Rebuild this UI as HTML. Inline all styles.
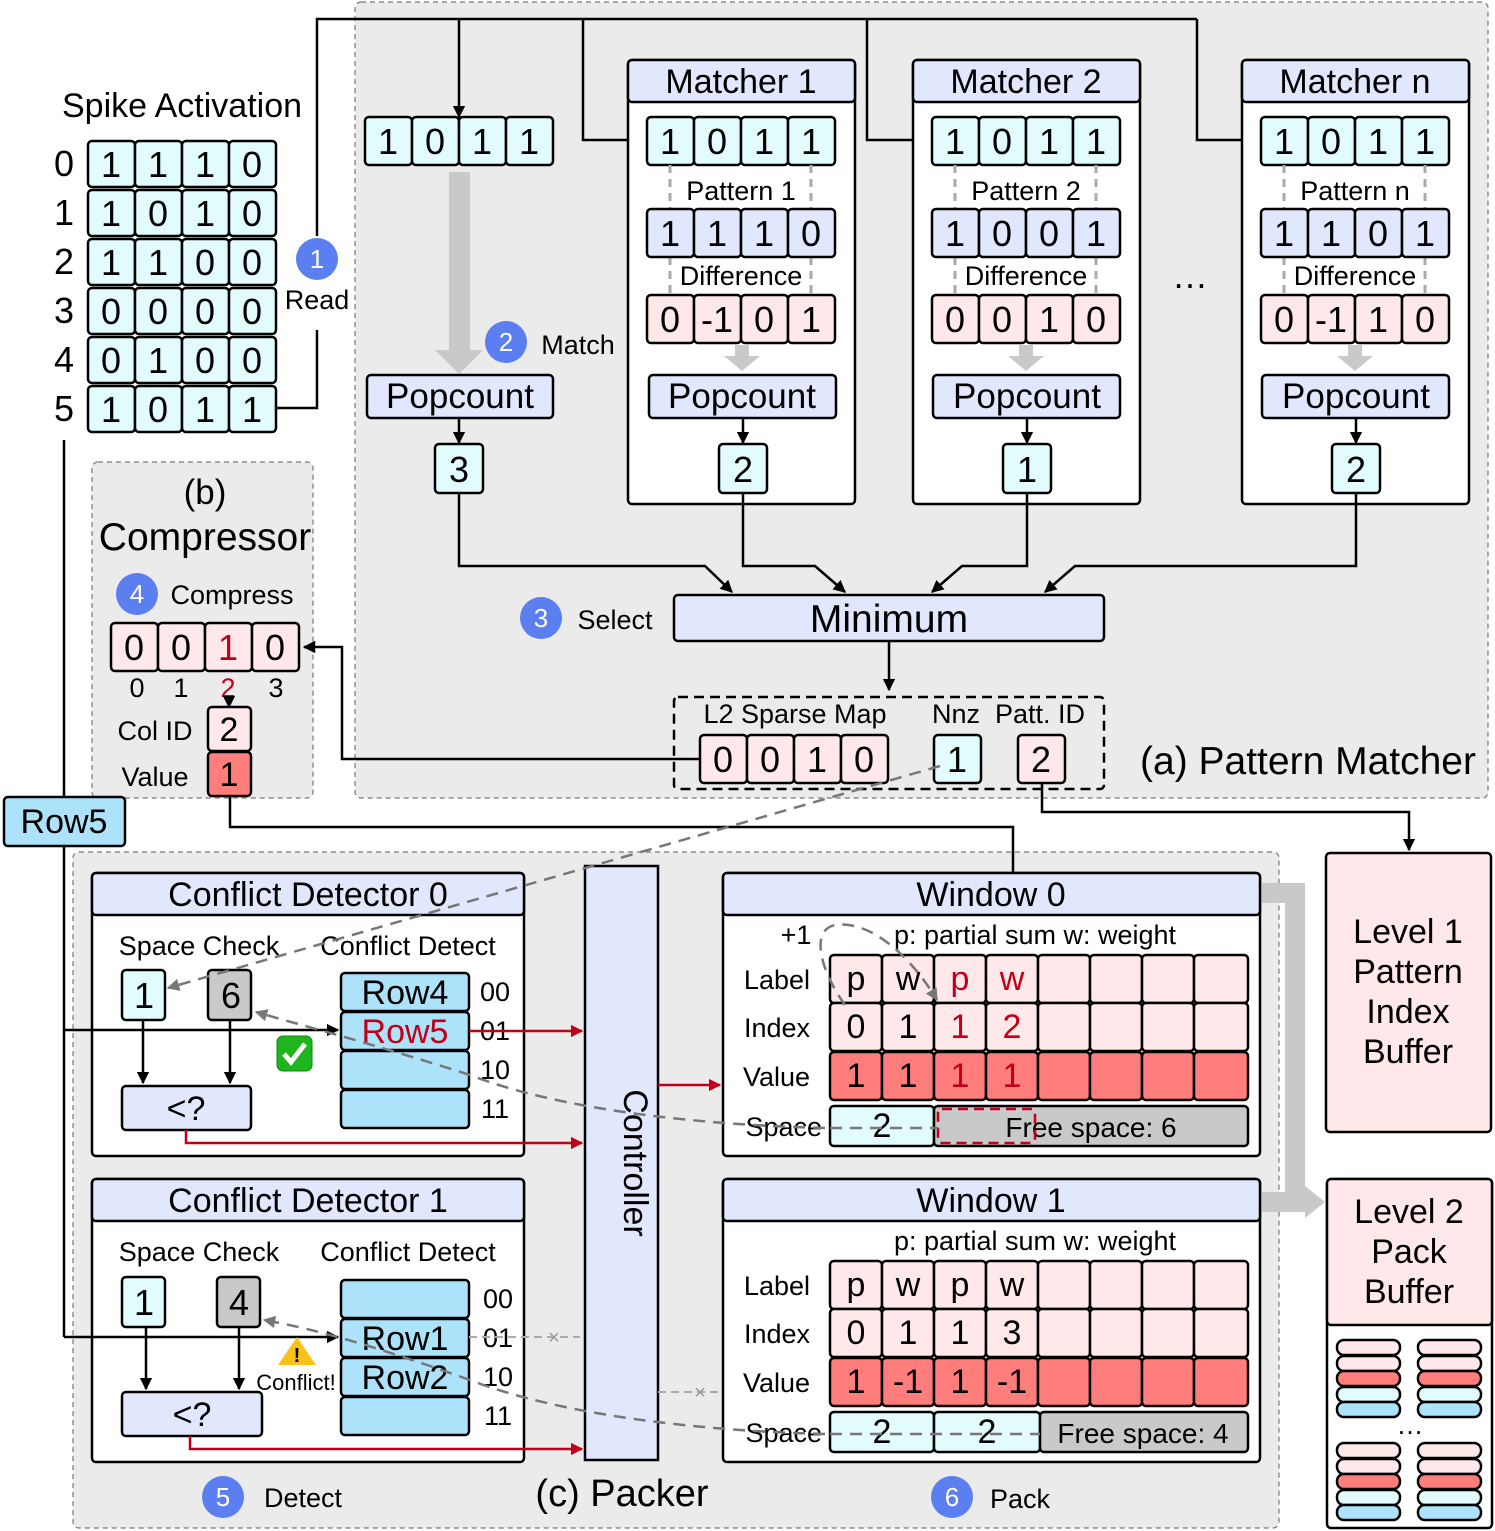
<!DOCTYPE html>
<html><head><meta charset="utf-8"><style>
body{margin:0;background:#fff}
svg{display:block;font-family:"Liberation Sans",sans-serif}
.c{stroke:#000;stroke-width:2.5}
.cy{fill:#e2fcfd}.lv{fill:#e1e7fc}.pk{fill:#fee8e9}.rd{fill:#ff7d7b}.bl{fill:#ade3fa}.gy{fill:#c9c9c9}
.b{font-size:36px;text-anchor:middle}
.m{font-size:34px;text-anchor:middle}
.s{font-size:27px;text-anchor:middle}
.r{fill:#c0001a}
.ln{stroke:#000;stroke-width:2.5;fill:none}
.red{stroke:#c0001a;stroke-width:2.5;fill:none}
.dg{stroke:#777;stroke-width:2.5;fill:none;stroke-dasharray:12 8}
.pd{stroke:#aaa;stroke-width:3;stroke-dasharray:8 6}
.ci{fill:#5b7ef0}
.cn{fill:#fff;font-size:26px;text-anchor:middle}
</style></head><body>
<svg width="1495" height="1531" viewBox="0 0 1495 1531" xmlns="http://www.w3.org/2000/svg">
<defs>
<marker id="a" viewBox="0 0 10 10" refX="9" refY="5" markerWidth="5" markerHeight="5" orient="auto"><path d="M0,0L10,5L0,10z" fill="#000"/></marker>
<marker id="ar" viewBox="0 0 10 10" refX="9" refY="5" markerWidth="5" markerHeight="5" orient="auto"><path d="M0,0L10,5L0,10z" fill="#c0001a"/></marker>
<marker id="ag" viewBox="0 0 10 10" refX="9" refY="5" markerWidth="5" markerHeight="5" orient="auto"><path d="M0,0L10,5L0,10z" fill="#777"/></marker>
</defs>
<rect x="355" y="2" width="1133" height="796" rx="6" fill="#ebebeb" stroke="#777" stroke-width="1.2" stroke-dasharray="5 4"/>
<rect x="92" y="462" width="221" height="336" rx="6" fill="#ebebeb" stroke="#777" stroke-width="1.2" stroke-dasharray="5 4"/>
<rect x="73" y="852" width="1206" height="676" rx="6" fill="#ebebeb" stroke="#777" stroke-width="1.2" stroke-dasharray="5 4"/>

<text x="182" y="117" class="m">Spike Activation</text>
<g class="b">
<text x="64" y="176">0</text><text x="64" y="225">1</text><text x="64" y="274">2</text><text x="64" y="323">3</text><text x="64" y="372">4</text><text x="64" y="421">5</text>
</g>
<g class="c cy">
<rect x="88" y="141" width="47" height="46" rx="4"/><rect x="135" y="141" width="47" height="46" rx="4"/><rect x="182" y="141" width="47" height="46" rx="4"/><rect x="229" y="141" width="47" height="46" rx="4"/>
<rect x="88" y="190" width="47" height="46" rx="4"/><rect x="135" y="190" width="47" height="46" rx="4"/><rect x="182" y="190" width="47" height="46" rx="4"/><rect x="229" y="190" width="47" height="46" rx="4"/>
<rect x="88" y="239" width="47" height="46" rx="4"/><rect x="135" y="239" width="47" height="46" rx="4"/><rect x="182" y="239" width="47" height="46" rx="4"/><rect x="229" y="239" width="47" height="46" rx="4"/>
<rect x="88" y="288" width="47" height="46" rx="4"/><rect x="135" y="288" width="47" height="46" rx="4"/><rect x="182" y="288" width="47" height="46" rx="4"/><rect x="229" y="288" width="47" height="46" rx="4"/>
<rect x="88" y="337" width="47" height="46" rx="4"/><rect x="135" y="337" width="47" height="46" rx="4"/><rect x="182" y="337" width="47" height="46" rx="4"/><rect x="229" y="337" width="47" height="46" rx="4"/>
<rect x="88" y="386" width="47" height="46" rx="4"/><rect x="135" y="386" width="47" height="46" rx="4"/><rect x="182" y="386" width="47" height="46" rx="4"/><rect x="229" y="386" width="47" height="46" rx="4"/>
</g>
<g class="b">
<text x="111" y="177">1</text><text x="158" y="177">1</text><text x="205" y="177">1</text><text x="252" y="177">0</text>
<text x="111" y="226">1</text><text x="158" y="226">0</text><text x="205" y="226">1</text><text x="252" y="226">0</text>
<text x="111" y="275">1</text><text x="158" y="275">1</text><text x="205" y="275">0</text><text x="252" y="275">0</text>
<text x="111" y="324">0</text><text x="158" y="324">0</text><text x="205" y="324">0</text><text x="252" y="324">0</text>
<text x="111" y="373">0</text><text x="158" y="373">1</text><text x="205" y="373">0</text><text x="252" y="373">0</text>
<text x="111" y="422">1</text><text x="158" y="422">0</text><text x="205" y="422">1</text><text x="252" y="422">1</text>
</g>
<circle cx="317" cy="259" r="21" class="ci"/><text x="317" y="268" class="cn">1</text>
<text x="317" y="309" class="s">Read</text>
<path class="ln" d="M277,408H317V330"/>
<path class="ln" d="M317,236V19H1197"/>
<path class="ln" marker-end="url(#a)" d="M459,19V117"/>
<path class="ln" marker-end="url(#a)" d="M583,19V140H645"/>
<path class="ln" marker-end="url(#a)" d="M867,19V140H929"/>
<path class="ln" marker-end="url(#a)" d="M1197,19V140H1258"/>

<g class="c cy"><rect x="365" y="117" width="47" height="48" rx="4"/><rect x="412" y="117" width="47" height="48" rx="4"/><rect x="459" y="117" width="47" height="48" rx="4"/><rect x="506" y="117" width="47" height="48" rx="4"/></g>
<g class="b"><text x="388" y="154">1</text><text x="435" y="154">0</text><text x="482" y="154">1</text><text x="529" y="154">1</text></g>
<polygon points="449,172 470,172 470,350 483,350 459,374 435,350 449,350" fill="#c9c9c9"/>
<circle cx="506" cy="342" r="21" class="ci"/><text x="506" y="351" class="cn">2</text>
<text x="578" y="354" class="s">Match</text>
<rect x="367" y="375" width="186" height="43" rx="4" class="c lv"/><text x="460" y="408" class="m" style="font-size:35px">Popcount</text>
<path class="ln" marker-end="url(#a)" d="M459,418V443"/>
<rect x="435" y="444" width="48" height="49" rx="4" class="c cy"/><text x="459" y="482" class="b">3</text>

<rect x="628" y="60" width="227" height="444" rx="4" fill="#fff" class="c"/>
<rect x="628" y="60" width="227" height="42" rx="4" class="c lv"/><text x="741" y="93" class="m">Matcher 1</text>
<g class="c cy"><rect x="647" y="117" width="47" height="48" rx="4"/><rect x="694" y="117" width="47" height="48" rx="4"/><rect x="741" y="117" width="47" height="48" rx="4"/><rect x="788" y="117" width="47" height="48" rx="4"/></g>
<g class="pd"><line x1="670" y1="165" x2="670" y2="209"/><line x1="811" y1="165" x2="811" y2="209"/><line x1="670" y1="257" x2="670" y2="295"/><line x1="811" y1="257" x2="811" y2="295"/></g>
<text x="741" y="200" class="s">Pattern 1</text>
<g class="c lv"><rect x="647" y="209" width="47" height="48" rx="4"/><rect x="694" y="209" width="47" height="48" rx="4"/><rect x="741" y="209" width="47" height="48" rx="4"/><rect x="788" y="209" width="47" height="48" rx="4"/></g>
<text x="741" y="285" class="s">Difference</text>
<g class="c pk"><rect x="647" y="295" width="47" height="48" rx="4"/><rect x="694" y="295" width="47" height="48" rx="4"/><rect x="741" y="295" width="47" height="48" rx="4"/><rect x="788" y="295" width="47" height="48" rx="4"/></g>
<g class="b"><text x="670" y="154">1</text><text x="717" y="154">0</text><text x="764" y="154">1</text><text x="811" y="154">1</text>
<text x="670" y="246">1</text><text x="717" y="246">1</text><text x="764" y="246">1</text><text x="811" y="246">0</text>
<text x="670" y="332">0</text><text x="717" y="332">-1</text><text x="764" y="332">0</text><text x="811" y="332">1</text></g>
<polygon points="735,345 749,345 749,356 760,356 742,371 724,356 735,356" fill="#c9c9c9"/>
<rect x="649" y="375" width="187" height="43" rx="4" class="c lv"/><text x="742" y="408" class="m" style="font-size:35px">Popcount</text>
<path class="ln" marker-end="url(#a)" d="M743,418V443"/>
<rect x="719" y="444" width="48" height="49" rx="4" class="c cy"/><text x="743" y="482" class="b">2</text>

<rect x="913" y="60" width="227" height="444" rx="4" fill="#fff" class="c"/>
<rect x="913" y="60" width="227" height="42" rx="4" class="c lv"/><text x="1026" y="93" class="m">Matcher 2</text>
<g class="c cy"><rect x="932" y="117" width="47" height="48" rx="4"/><rect x="979" y="117" width="47" height="48" rx="4"/><rect x="1026" y="117" width="47" height="48" rx="4"/><rect x="1073" y="117" width="47" height="48" rx="4"/></g>
<g class="pd"><line x1="955" y1="165" x2="955" y2="209"/><line x1="1096" y1="165" x2="1096" y2="209"/><line x1="955" y1="257" x2="955" y2="295"/><line x1="1096" y1="257" x2="1096" y2="295"/></g>
<text x="1026" y="200" class="s">Pattern 2</text>
<g class="c lv"><rect x="932" y="209" width="47" height="48" rx="4"/><rect x="979" y="209" width="47" height="48" rx="4"/><rect x="1026" y="209" width="47" height="48" rx="4"/><rect x="1073" y="209" width="47" height="48" rx="4"/></g>
<text x="1026" y="285" class="s">Difference</text>
<g class="c pk"><rect x="932" y="295" width="47" height="48" rx="4"/><rect x="979" y="295" width="47" height="48" rx="4"/><rect x="1026" y="295" width="47" height="48" rx="4"/><rect x="1073" y="295" width="47" height="48" rx="4"/></g>
<g class="b"><text x="955" y="154">1</text><text x="1002" y="154">0</text><text x="1049" y="154">1</text><text x="1096" y="154">1</text>
<text x="955" y="246">1</text><text x="1002" y="246">0</text><text x="1049" y="246">0</text><text x="1096" y="246">1</text>
<text x="955" y="332">0</text><text x="1002" y="332">0</text><text x="1049" y="332">1</text><text x="1096" y="332">0</text></g>
<polygon points="1019,345 1033,345 1033,356 1044,356 1026,371 1008,356 1019,356" fill="#c9c9c9"/>
<rect x="933" y="375" width="187" height="43" rx="4" class="c lv"/><text x="1027" y="408" class="m" style="font-size:35px">Popcount</text>
<path class="ln" marker-end="url(#a)" d="M1027,418V443"/>
<rect x="1003" y="444" width="48" height="49" rx="4" class="c cy"/><text x="1027" y="482" class="b">1</text>

<text x="1190" y="288" class="b">…</text>

<rect x="1242" y="60" width="227" height="444" rx="4" fill="#fff" class="c"/>
<rect x="1242" y="60" width="227" height="42" rx="4" class="c lv"/><text x="1355" y="93" class="m">Matcher n</text>
<g class="c cy"><rect x="1261" y="117" width="47" height="48" rx="4"/><rect x="1308" y="117" width="47" height="48" rx="4"/><rect x="1355" y="117" width="47" height="48" rx="4"/><rect x="1402" y="117" width="47" height="48" rx="4"/></g>
<g class="pd"><line x1="1284" y1="165" x2="1284" y2="209"/><line x1="1425" y1="165" x2="1425" y2="209"/><line x1="1284" y1="257" x2="1284" y2="295"/><line x1="1425" y1="257" x2="1425" y2="295"/></g>
<text x="1355" y="200" class="s">Pattern n</text>
<g class="c lv"><rect x="1261" y="209" width="47" height="48" rx="4"/><rect x="1308" y="209" width="47" height="48" rx="4"/><rect x="1355" y="209" width="47" height="48" rx="4"/><rect x="1402" y="209" width="47" height="48" rx="4"/></g>
<text x="1355" y="285" class="s">Difference</text>
<g class="c pk"><rect x="1261" y="295" width="47" height="48" rx="4"/><rect x="1308" y="295" width="47" height="48" rx="4"/><rect x="1355" y="295" width="47" height="48" rx="4"/><rect x="1402" y="295" width="47" height="48" rx="4"/></g>
<g class="b"><text x="1284" y="154">1</text><text x="1331" y="154">0</text><text x="1378" y="154">1</text><text x="1425" y="154">1</text>
<text x="1284" y="246">1</text><text x="1331" y="246">1</text><text x="1378" y="246">0</text><text x="1425" y="246">1</text>
<text x="1284" y="332">0</text><text x="1331" y="332">-1</text><text x="1378" y="332">1</text><text x="1425" y="332">0</text></g>
<polygon points="1348,345 1362,345 1362,356 1373,356 1355,371 1337,356 1348,356" fill="#c9c9c9"/>
<rect x="1262" y="375" width="187" height="43" rx="4" class="c lv"/><text x="1356" y="408" class="m" style="font-size:35px">Popcount</text>
<path class="ln" marker-end="url(#a)" d="M1356,418V443"/>
<rect x="1332" y="444" width="48" height="49" rx="4" class="c cy"/><text x="1356" y="482" class="b">2</text>

<path class="ln" marker-end="url(#a)" d="M459,493V566H705L732,592"/>
<path class="ln" marker-end="url(#a)" d="M743,493V566H815L845,592"/>
<path class="ln" marker-end="url(#a)" d="M1027,493V566H962L932,592"/>
<path class="ln" marker-end="url(#a)" d="M1356,493V566H1075L1045,592"/>
<rect x="674" y="595" width="430" height="46" rx="4" class="c lv"/><text x="889" y="632" class="b" style="font-size:39px">Minimum</text>
<circle cx="541" cy="618" r="21" class="ci"/><text x="541" y="627" class="cn">3</text>
<text x="615" y="629" class="s">Select</text>
<path class="ln" marker-end="url(#a)" d="M889,641V690"/>
<rect x="674" y="697" width="430" height="92" rx="4" fill="none" stroke="#000" stroke-width="2.5" stroke-dasharray="10 6"/>
<text x="795" y="723" class="s">L2 Sparse Map</text><text x="956" y="723" class="s">Nnz</text><text x="1040" y="723" class="s">Patt. ID</text>
<g class="c pk"><rect x="700" y="735" width="47" height="48" rx="4"/><rect x="747" y="735" width="47" height="48" rx="4"/><rect x="794" y="735" width="47" height="48" rx="4"/><rect x="841" y="735" width="47" height="48" rx="4"/><rect x="1018" y="735" width="47" height="48" rx="4"/></g>
<rect x="934" y="735" width="47" height="48" rx="4" class="c cy"/>
<g class="b"><text x="723" y="772">0</text><text x="770" y="772">0</text><text x="817" y="772">1</text><text x="864" y="772">0</text><text x="957" y="772">1</text><text x="1041" y="772">2</text></g>
<text x="1308" y="774" class="b" style="font-size:39px">(a) Pattern Matcher</text>
<path class="ln" marker-end="url(#a)" d="M700,759H342V647H304"/>
<path class="ln" marker-end="url(#a)" d="M1042,783V812H1409V850"/>

<text x="205" y="504" style="font-size:35px;text-anchor:middle">(b)</text>
<text x="205" y="550" style="font-size:39px;text-anchor:middle">Compressor</text>
<circle cx="137" cy="594" r="21" class="ci"/><text x="137" y="603" class="cn">4</text>
<text x="232" y="604" class="s">Compress</text>
<g class="c pk"><rect x="111" y="623" width="47" height="48" rx="4"/><rect x="158" y="623" width="47" height="48" rx="4"/><rect x="205" y="623" width="47" height="48" rx="4"/><rect x="252" y="623" width="47" height="48" rx="4"/></g>
<g class="b"><text x="134" y="660">0</text><text x="181" y="660">0</text><text x="228" y="660" class="r">1</text><text x="275" y="660">0</text></g>
<g class="s"><text x="137" y="697">0</text><text x="181" y="697">1</text><text x="228" y="697" class="r">2</text><text x="276" y="697">3</text></g>
<path class="ln" marker-end="url(#a)" d="M229,697V707"/>
<text x="155" y="740" class="s">Col ID</text>
<rect x="208" y="707" width="43" height="44" rx="4" class="c pk"/><text x="229" y="741" class="m">2</text>
<text x="155" y="786" class="s">Value</text>
<rect x="208" y="752" width="43" height="44" rx="4" class="c rd"/><text x="229" y="786" class="m">1</text>
<path class="ln" marker-end="url(#a)" d="M230,796V827H1013V955"/>

<path class="ln" d="M64,440V1337"/>
<rect x="4" y="797" width="121" height="49" rx="4" class="c bl"/><text x="64" y="833" class="m">Row5</text>

<rect x="92" y="873" width="432" height="283" rx="4" fill="#fff" class="c"/>
<rect x="92" y="873" width="432" height="42" rx="4" class="c lv"/><text x="308" y="906" class="m">Conflict Detector 0</text>
<text x="199" y="955" class="s">Space Check</text><text x="408" y="955" class="s">Conflict Detect</text>
<rect x="122" y="970" width="43" height="50" rx="4" class="c cy"/><text x="144" y="1008" class="b">1</text>
<rect x="208" y="970" width="43" height="50" rx="4" class="c gy"/><text x="231" y="1008" class="b">6</text>
<path class="ln" marker-end="url(#a)" d="M143,1020V1083"/><path class="ln" marker-end="url(#a)" d="M230,1020V1083"/>
<rect x="122" y="1086" width="129" height="44" rx="4" class="c lv"/><text x="186" y="1120" class="m">&lt;?</text>
<g class="c bl"><rect x="341" y="973" width="128" height="38" rx="4"/><rect x="341" y="1012" width="128" height="38" rx="4"/><rect x="341" y="1051" width="128" height="38" rx="4"/><rect x="341" y="1090" width="128" height="38" rx="4"/></g>
<text x="405" y="1004" class="m">Row4</text><text x="405" y="1043" class="m r">Row5</text>
<g class="s"><text x="495" y="1001">00</text><text x="495" y="1040">01</text><text x="495" y="1079">10</text><text x="495" y="1118">11</text></g>
<path class="ln" marker-end="url(#a)" d="M64,1030H338"/>
<rect x="277" y="1036" width="35" height="35" rx="6" fill="#1fb51f" stroke="#0a8a0a"/><path d="M284,1054l7,8l14,-18" stroke="#fff" stroke-width="5" fill="none"/>
<path class="red" marker-end="url(#ar)" d="M469,1031H582"/>
<path class="red" marker-end="url(#ar)" d="M186,1130V1143H582"/>

<rect x="92" y="1179" width="432" height="283" rx="4" fill="#fff" class="c"/>
<rect x="92" y="1179" width="432" height="42" rx="4" class="c lv"/><text x="308" y="1212" class="m">Conflict Detector 1</text>
<text x="199" y="1261" class="s">Space Check</text><text x="408" y="1261" class="s">Conflict Detect</text>
<rect x="122" y="1277" width="43" height="50" rx="4" class="c cy"/><text x="144" y="1315" class="b">1</text>
<rect x="217" y="1277" width="43" height="50" rx="4" class="c gy"/><text x="239" y="1315" class="b">4</text>
<path class="ln" marker-end="url(#a)" d="M146,1327V1389"/><path class="ln" marker-end="url(#a)" d="M239,1327V1389"/>
<rect x="122" y="1392" width="140" height="44" rx="4" class="c lv"/><text x="192" y="1426" class="m">&lt;?</text>
<g class="c bl"><rect x="341" y="1280" width="128" height="38" rx="4"/><rect x="341" y="1319" width="128" height="38" rx="4"/><rect x="341" y="1358" width="128" height="38" rx="4"/><rect x="341" y="1397" width="128" height="38" rx="4"/></g>
<text x="405" y="1350" class="m">Row1</text><text x="405" y="1389" class="m">Row2</text>
<g class="s"><text x="498" y="1308">00</text><text x="498" y="1347">01</text><text x="498" y="1386">10</text><text x="498" y="1425">11</text></g>
<path class="ln" marker-end="url(#a)" d="M64,1337H338"/>
<polygon points="297,1337 316,1365 278,1365" fill="#f8c21a"/><text x="297" y="1362" style="font-size:20px;text-anchor:middle;font-weight:bold">!</text>
<text x="296" y="1390" style="font-size:22px;text-anchor:middle">Conflict!</text>
<path stroke="#aaa" stroke-width="2" stroke-dasharray="8 5" fill="none" d="M469,1337H580"/><text x="554" y="1344" style="font-size:20px;fill:#999;text-anchor:middle">×</text>
<path class="red" marker-end="url(#ar)" d="M190,1436V1449H582"/>

<rect x="585" y="866" width="73" height="594" class="c lv"/>
<text x="622" y="1163" class="m" transform="rotate(90 622 1163)" dy="-2">Controller</text>
<path class="red" marker-end="url(#ar)" d="M658,1085H720"/>
<path stroke="#aaa" stroke-width="2" stroke-dasharray="8 5" fill="none" d="M658,1392H718"/><text x="700" y="1399" style="font-size:20px;fill:#999;text-anchor:middle">×</text>

<rect x="723" y="873" width="537" height="283" rx="4" fill="#fff" class="c"/>
<rect x="723" y="873" width="537" height="42" rx="4" class="c lv"/><text x="991" y="906" class="m">Window 0</text>
<text x="796" y="944" class="s">+1</text><text x="1035" y="944" class="s">p: partial sum w: weight</text>
<g class="s" style="text-anchor:end"><text x="810" y="989">Label</text><text x="810" y="1037">Index</text><text x="810" y="1086">Value</text><text x="822" y="1136">Space</text></g>
<g class="c pk">
<rect x="830" y="955" width="52" height="48" rx="4"/><rect x="882" y="955" width="52" height="48" rx="4"/><rect x="934" y="955" width="52" height="48" rx="4"/><rect x="986" y="955" width="52" height="48" rx="4"/><rect x="1038" y="955" width="52" height="48" rx="4"/><rect x="1090" y="955" width="52" height="48" rx="4"/><rect x="1142" y="955" width="52" height="48" rx="4"/><rect x="1194" y="955" width="54" height="48" rx="4"/>
<rect x="830" y="1003" width="52" height="48" rx="4"/><rect x="882" y="1003" width="52" height="48" rx="4"/><rect x="934" y="1003" width="52" height="48" rx="4"/><rect x="986" y="1003" width="52" height="48" rx="4"/><rect x="1038" y="1003" width="52" height="48" rx="4"/><rect x="1090" y="1003" width="52" height="48" rx="4"/><rect x="1142" y="1003" width="52" height="48" rx="4"/><rect x="1194" y="1003" width="54" height="48" rx="4"/>
</g>
<g class="c rd"><rect x="830" y="1052" width="52" height="48" rx="4"/><rect x="882" y="1052" width="52" height="48" rx="4"/><rect x="934" y="1052" width="52" height="48" rx="4"/><rect x="986" y="1052" width="52" height="48" rx="4"/><rect x="1038" y="1052" width="52" height="48" rx="4"/><rect x="1090" y="1052" width="52" height="48" rx="4"/><rect x="1142" y="1052" width="52" height="48" rx="4"/><rect x="1194" y="1052" width="54" height="48" rx="4"/></g>
<g class="m"><text x="856" y="990">p</text><text x="908" y="990">w</text><text x="960" y="990" class="r">p</text><text x="1012" y="990" class="r">w</text>
<text x="856" y="1038">0</text><text x="908" y="1038">1</text><text x="960" y="1038" class="r">1</text><text x="1012" y="1038" class="r">2</text>
<text x="856" y="1087">1</text><text x="908" y="1087">1</text><text x="960" y="1087" class="r">1</text><text x="1012" y="1087" class="r">1</text></g>
<rect x="830" y="1106" width="104" height="40" rx="4" class="c cy"/><rect x="934" y="1106" width="314" height="40" rx="4" class="c gy"/>
<text x="882" y="1137" class="m">2</text><text x="1091" y="1137" class="s" style="font-size:28px">Free space: 6</text>
<rect x="938" y="1109" width="97" height="34" rx="4" fill="none" stroke="#c0001a" stroke-width="2.5" stroke-dasharray="10 6"/>

<rect x="723" y="1179" width="537" height="283" rx="4" fill="#fff" class="c"/>
<rect x="723" y="1179" width="537" height="42" rx="4" class="c lv"/><text x="991" y="1212" class="m">Window 1</text>
<text x="1035" y="1250" class="s">p: partial sum w: weight</text>
<g class="s" style="text-anchor:end"><text x="810" y="1295">Label</text><text x="810" y="1343">Index</text><text x="810" y="1392">Value</text><text x="822" y="1442">Space</text></g>
<g class="c pk">
<rect x="830" y="1261" width="52" height="48" rx="4"/><rect x="882" y="1261" width="52" height="48" rx="4"/><rect x="934" y="1261" width="52" height="48" rx="4"/><rect x="986" y="1261" width="52" height="48" rx="4"/><rect x="1038" y="1261" width="52" height="48" rx="4"/><rect x="1090" y="1261" width="52" height="48" rx="4"/><rect x="1142" y="1261" width="52" height="48" rx="4"/><rect x="1194" y="1261" width="54" height="48" rx="4"/>
<rect x="830" y="1309" width="52" height="48" rx="4"/><rect x="882" y="1309" width="52" height="48" rx="4"/><rect x="934" y="1309" width="52" height="48" rx="4"/><rect x="986" y="1309" width="52" height="48" rx="4"/><rect x="1038" y="1309" width="52" height="48" rx="4"/><rect x="1090" y="1309" width="52" height="48" rx="4"/><rect x="1142" y="1309" width="52" height="48" rx="4"/><rect x="1194" y="1309" width="54" height="48" rx="4"/>
</g>
<g class="c rd"><rect x="830" y="1358" width="52" height="48" rx="4"/><rect x="882" y="1358" width="52" height="48" rx="4"/><rect x="934" y="1358" width="52" height="48" rx="4"/><rect x="986" y="1358" width="52" height="48" rx="4"/><rect x="1038" y="1358" width="52" height="48" rx="4"/><rect x="1090" y="1358" width="52" height="48" rx="4"/><rect x="1142" y="1358" width="52" height="48" rx="4"/><rect x="1194" y="1358" width="54" height="48" rx="4"/></g>
<g class="m"><text x="856" y="1296">p</text><text x="908" y="1296">w</text><text x="960" y="1296">p</text><text x="1012" y="1296">w</text>
<text x="856" y="1344">0</text><text x="908" y="1344">1</text><text x="960" y="1344">1</text><text x="1012" y="1344">3</text>
<text x="856" y="1393">1</text><text x="908" y="1393">-1</text><text x="960" y="1393">1</text><text x="1012" y="1393">-1</text></g>
<rect x="830" y="1412" width="104" height="40" rx="4" class="c cy"/><rect x="934" y="1412" width="106" height="40" rx="4" class="c cy"/><rect x="1040" y="1412" width="208" height="40" rx="4" class="c gy"/>
<text x="882" y="1443" class="m">2</text><text x="987" y="1443" class="m">2</text><text x="1143" y="1443" class="s" style="font-size:28px">Free space: 4</text>

<path class="dg" marker-end="url(#ag)" d="M940,766L168,988"/>
<path class="dg" marker-end="url(#ag)" d="M825,1128C700,1125 560,1110 470,1075C360,1040 300,1025 256,1012"/>
<path class="dg" d="M830,1128H938"/>
<path class="dg" marker-end="url(#ag)" d="M825,1434C700,1431 560,1415 470,1380C380,1348 320,1330 264,1320"/>
<path class="dg" d="M830,1434H1040"/>
<path class="dg" marker-end="url(#ag)" d="M845,1005C820,970 810,930 835,925C870,920 910,955 937,1000"/>

<polygon points="1262,883 1305,883 1305,1186 1325,1202 1305,1218 1305,1212 1262,1212 1262,1192 1285,1192 1285,903 1262,903" fill="#c9c9c9"/>

<rect x="1326" y="853" width="165" height="279" rx="4" class="c pk"/>
<g class="m"><text x="1408" y="943">Level 1</text><text x="1408" y="983">Pattern</text><text x="1408" y="1023">Index</text><text x="1408" y="1063">Buffer</text></g>
<rect x="1327" y="1179" width="165" height="349" rx="4" fill="#fff" class="c"/>
<rect x="1327" y="1179" width="165" height="146" rx="4" class="c pk"/>
<g class="m"><text x="1409" y="1223">Level 2</text><text x="1409" y="1263">Pack</text><text x="1409" y="1303">Buffer</text></g>
<g stroke="#000" stroke-width="2.5">
<rect x="1337" y="1340" width="63" height="15" rx="7" class="pk"/><rect x="1337" y="1356" width="63" height="15" rx="7" class="pk"/><rect x="1337" y="1371" width="63" height="15" rx="7" class="rd"/><rect x="1337" y="1387" width="63" height="15" rx="7" class="cy"/><rect x="1337" y="1402" width="63" height="15" rx="7" class="bl"/>
<rect x="1418" y="1340" width="63" height="15" rx="7" class="pk"/><rect x="1418" y="1356" width="63" height="15" rx="7" class="pk"/><rect x="1418" y="1371" width="63" height="15" rx="7" class="rd"/><rect x="1418" y="1387" width="63" height="15" rx="7" class="cy"/><rect x="1418" y="1402" width="63" height="15" rx="7" class="bl"/>
<rect x="1337" y="1443" width="63" height="15" rx="7" class="pk"/><rect x="1337" y="1459" width="63" height="15" rx="7" class="pk"/><rect x="1337" y="1474" width="63" height="15" rx="7" class="rd"/><rect x="1337" y="1490" width="63" height="15" rx="7" class="cy"/><rect x="1337" y="1505" width="63" height="15" rx="7" class="bl"/>
<rect x="1418" y="1443" width="63" height="15" rx="7" class="pk"/><rect x="1418" y="1459" width="63" height="15" rx="7" class="pk"/><rect x="1418" y="1474" width="63" height="15" rx="7" class="rd"/><rect x="1418" y="1490" width="63" height="15" rx="7" class="cy"/><rect x="1418" y="1505" width="63" height="15" rx="7" class="bl"/>
</g>
<text x="1410" y="1434" class="s">…</text>

<circle cx="223" cy="1497" r="21" class="ci"/><text x="223" y="1506" class="cn">5</text>
<text x="303" y="1507" class="s">Detect</text>
<text x="622" y="1506" class="b" style="font-size:38px">(c) Packer</text>
<circle cx="952" cy="1497" r="21" class="ci"/><text x="952" y="1506" class="cn">6</text>
<text x="1020" y="1508" class="s">Pack</text>
</svg>
</body></html>
